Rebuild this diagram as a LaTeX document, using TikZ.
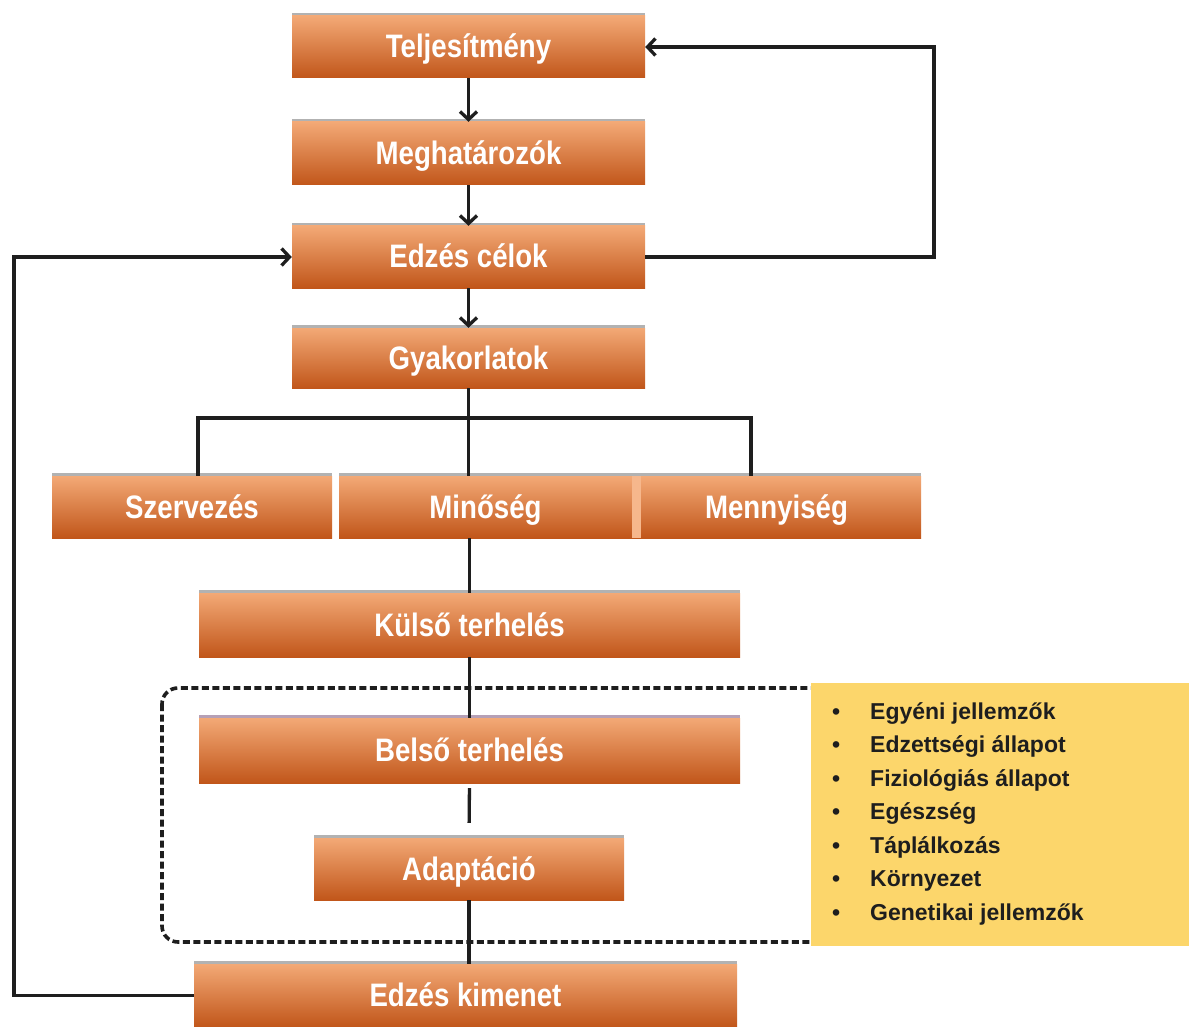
\documentclass[tikz,border=0pt]{standalone}
\usepackage{fontspec}
\setmainfont{Liberation Sans}
\newfontfamily\boxfont[FakeStretch=0.85]{Liberation Sans}
\usetikzlibrary{arrows.meta,shadows}
\definecolor{orTop}{HTML}{F3A976}
\definecolor{orMid}{HTML}{EC843A}
\definecolor{orBot}{HTML}{C1561A}
\definecolor{peach}{HTML}{F6B78C}
\definecolor{listbg}{HTML}{FCD66B}
\definecolor{ink}{HTML}{1E1E1E}

\begin{document}
\begin{tikzpicture}[x=1pt,y=-1pt,
  obox/.style={rectangle, inner sep=0pt, top color=orTop, middle color=orMid,
    bottom color=orBot, text=white, text height=27pt, text depth=5pt,
    font=\boxfont\bfseries\fontsize{32.5}{36}\selectfont,
    drop shadow={shadow xshift=0pt, shadow yshift=3pt, opacity=0.4, fill=black!75}},
  link/.style={draw=ink, line width=3.3pt},
  arr/.style={link, -{Straight Barb[length=8pt,width=17pt]}},
  item/.style={anchor=base west, inner sep=0pt, text=ink,
    font=\bfseries\fontsize{23}{28}\selectfont},
]
\useasboundingbox (0,0) rectangle (1189,1027);
\fill[white] (0,0) rectangle (1189,1027);

% influencing factors frame (drawn first, the list box covers its right side)
\draw[ink, line width=3.6pt, dash pattern=on 7pt off 3.5pt, rounded corners=16pt]
  (162,688) rectangle (900,942);

% main chain
\node[obox, minimum width=353pt, minimum height=62pt] (telj) at (468.5,47) {Teljesítmény};
\node[obox, minimum width=353pt, minimum height=63pt] (megh) at (468.5,153.5) {Meghatározók};
\node[obox, minimum width=353pt, minimum height=62pt] (celok) at (468.5,257) {Edzés célok};
\node[obox, minimum width=353pt, minimum height=60pt] (gyak) at (468.5,358) {Gyakorlatok};

\node[obox, minimum width=280pt, minimum height=62pt] (szerv) at (192,507) {Szervezés};
\node[obox, minimum width=293pt, minimum height=62pt] (minos) at (485.5,507) {Minőség};
\node[obox, minimum width=289pt, minimum height=62pt] (menny) at (776.5,507) {Mennyiség};
\fill[peach] (menny.north west) rectangle ([xshift=9pt]menny.south west);

\node[obox, minimum width=541pt, minimum height=64pt] (kulso) at (469.5,625) {Külső terhelés};
\node[obox, minimum width=541pt, minimum height=65pt,
  drop shadow={shadow xshift=0pt, shadow yshift=3pt, opacity=0.35, fill=violet!50}]
  (belso) at (469.5,750.5) {Belső terhelés};
\node[obox, minimum width=310pt, minimum height=62pt] (adapt) at (469,869) {Adaptáció};
\node[obox, minimum width=543pt, minimum height=63pt] (kimenet) at (465.5,995.5) {Edzés kimenet};

% downward arrows
\draw[arr] (telj.south) -- (megh.north);
\draw[arr] (megh.south) -- (celok.north);
\draw[arr] (celok.south) -- (gyak.north);

% branching into the three exercise aspects
\coordinate (busL) at (198,418);
\coordinate (busR) at (751,418);
\draw[link] (gyak.south) -- (gyak.south |- busL);
\draw[link] (busL |- szerv.north) -- (busL) -- (busR) -- (busR |- menny.north);
\draw[link] (gyak.south |- busL) -- (gyak.south |- minos.north);

% load and adaptation chain
\draw[link] (kulso.north |- minos.south) -- (kulso.north);
\draw[link] (kulso.south) -- (belso.north);
\draw[link, shorten <=5pt, shorten >=15pt] (belso.south) -- (adapt.north);
\draw[link] (adapt.south) -- (adapt.south |- kimenet.north);

% feedback loops
\coordinate (rx) at (934,0);
\coordinate (lx) at (14,0);
\draw[arr] (celok.east) -| (rx |- telj.east) -- (telj.east);
\draw[arr] (kimenet.west) -| (lx |- celok.west) -- (celok.west);

% individual factors
\node[fill=listbg, inner sep=0pt, minimum width=378pt, minimum height=263pt,
  anchor=north west] (infl) at (811,683) {};
\foreach \txt [count=\i] in {Egyéni jellemzők, Edzettségi állapot,
    Fiziológiás állapot, Egészség, Táplálkozás, Környezet, Genetikai jellemzők} {
  \node[item] (bul\i) at (832,{719+33.5*(\i-1)}) {\textbullet};
  \node[item] (fac\i) at (870,{719+33.5*(\i-1)}) {\txt};
}
\end{tikzpicture}
\end{document}
